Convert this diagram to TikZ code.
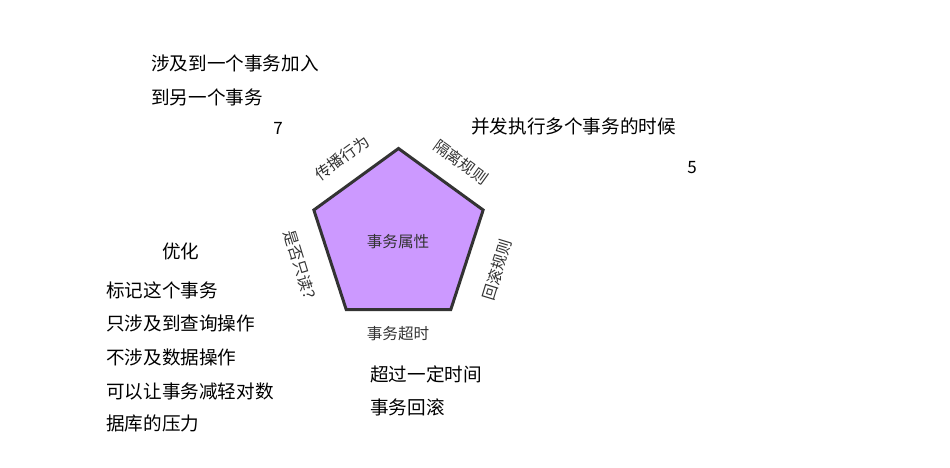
\documentclass[tikz,border=0pt]{standalone}
\usepackage{fontspec}
\setmainfont{Noto Sans CJK SC}
\usetikzlibrary{shapes.geometric}
\definecolor{pfill}{HTML}{CC99FF}
\definecolor{pline}{HTML}{333333}
\begin{document}
\begin{tikzpicture}[x=1pt,y=-1pt,
  note/.style={anchor=west,inner sep=0pt,font=\fontsize{18.6}{20}\selectfont,text=black},
  edgelbl/.style={inner sep=0pt,font=\fontsize{15.6}{17}\selectfont,text=pline},
  num/.style={inner sep=0pt,font=\fontsize{17}{18}\selectfont,text=black}]
\useasboundingbox (0,0) rectangle (950,467);
\node[regular polygon,regular polygon sides=5,minimum size=178pt,inner sep=0pt,
  fill=pfill,draw=pline,line width=3pt,line join=miter] (pent) at (398.5,237.5) {};
\node[edgelbl] (center) at (398,242) {事务属性};
\node[edgelbl,rotate=36] (prop) at (342,158) {传播行为};
\node[edgelbl,rotate=-36] (iso) at (461,162) {隔离规则};
\node[edgelbl,rotate=73] (roll) at (497,270) {回滚规则};
\node[edgelbl,rotate=-73] (ro) at (301,268) {是否只读？};
\node[edgelbl] (tout) at (398,334) {事务超时};
\node[note] (t1) at (151,63) {涉及到一个事务加入};
\node[note] (t2) at (151,97) {到另一个事务};
\node[num] (n7) at (278,128) {7};
\node[note] (t3) at (471,126) {并发执行多个事务的时候};
\node[num] (n5) at (692,168) {5};
\node[note] (t4) at (162,251) {优化};
\node[note] (t5) at (106,290) {标记这个事务};
\node[note] (t6) at (106,323) {只涉及到查询操作};
\node[note] (t7) at (106,357) {不涉及数据操作};
\node[note] (t8) at (106,391) {可以让事务减轻对数};
\node[note] (t9) at (106,423) {据库的压力};
\node[note] (t10) at (370,374) {超过一定时间};
\node[note] (t11) at (370,407) {事务回滚};
\end{tikzpicture}
\end{document}
